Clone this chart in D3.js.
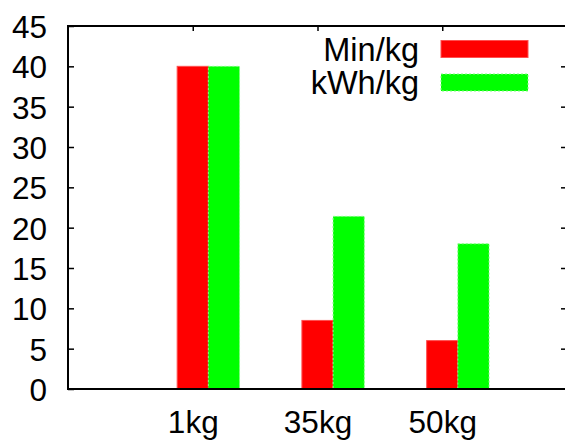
<!DOCTYPE html>
<html>
<head>
<meta charset="utf-8">
<script src="https://cdn.jsdelivr.net/npm/d3@7"></script>
<style>
  body { margin: 0; background: #fff; }
  svg { display: block; }
  text { font-family: "Liberation Sans", Arial, Helvetica, sans-serif; font-size: 31.5px; fill: #000; }
  .legend text { font-size: 32.5px; }
</style>
</head>
<body>
<svg id="chart" width="565" height="441"></svg>
<script>
const categories = ['1kg', '35kg', '50kg'];
const minPerKg = [40, 8.5, 6];
const kwhPerKg = [40, 21.4, 18];
const seriesNames = ['Min/kg', 'kWh/kg'];
const yTicks = [0, 5, 10, 15, 20, 25, 30, 35, 40, 45];

const colors = ['#ff0000', '#00ff00'];
const outlines = ['#ff5050', '#7fff7f'];

const svg = d3.select('#chart');

const plotLeft = 68, plotRight = 567, plotTop = 26, plotBottom = 389;

// categories sit on 1, 2, 3; the x range runs 0..4
const x = d3.scaleLinear().domain([0, categories.length + 1]).range([plotLeft, plotRight]);
const y = d3.scaleLinear().domain([0, 45]).range([plotBottom, plotTop]);

const series = [minPerKg, kwhPerKg];
const barW = 0.25;
const offsets = [-0.125, 0.125];

series.forEach((vals, s) => {
  svg.append('g')
    .selectAll('rect')
    .data(vals)
    .enter()
    .append('rect')
    .attr('x', (d, i) => x(i + 1 + offsets[s]))
    .attr('width', x(barW) - x(0))
    .attr('y', d => y(d))
    .attr('height', d => y(0) - y(d))
    .style('fill', colors[s])
    .style('stroke', outlines[s])
    .style('stroke-width', 1)
    .style('stroke-dasharray', s === 1 ? '2,2' : null);
});

// y axis, ticks inside
const yAxis = d3.axisLeft(y).tickValues(yTicks).tickSizeInner(-6).tickSizeOuter(0).tickPadding(21);
const gy = svg.append('g').attr('transform', `translate(${plotLeft},0)`).call(yAxis);
gy.select('.domain').remove();
gy.selectAll('.tick line').attr('stroke', '#000').attr('stroke-width', 1.5);
gy.selectAll('.tick text').attr('dy', '0.36em');

// mirrored ticks on the right border
const gr = svg.append('g').attr('transform', `translate(${plotRight},0)`)
  .call(d3.axisRight(y).tickValues(yTicks.slice(1, -1)).tickSizeInner(-6).tickSizeOuter(0).tickFormat(''));
gr.select('.domain').remove();
gr.selectAll('.tick line').attr('stroke', '#000').attr('stroke-width', 1.5);

// x axis labels below
const gx = svg.append('g').attr('transform', `translate(0,${plotBottom})`)
  .call(d3.axisBottom(x).tickValues([1, 2, 3]).tickFormat(d => categories[d - 1]).tickSize(0).tickPadding(22));
gx.select('.domain').remove();
gx.selectAll('.tick text').attr('dy', '0.71em');
gx.attr('font-size', null).attr('font-family', null);
gy.attr('font-size', null).attr('font-family', null);

// mirrored ticks on top
const gt = svg.append('g').attr('transform', `translate(0,${plotTop})`)
  .call(d3.axisTop(x).tickValues([1, 2, 3]).tickSizeInner(-5).tickSizeOuter(0).tickFormat(''));
gt.select('.domain').remove();
gt.selectAll('.tick line').attr('stroke', '#000').attr('stroke-width', 1.5);

// frame
svg.append('path')
  .attr('d', `M${plotRight},${plotTop}H${plotLeft}V${plotBottom}H${plotRight}`)
  .attr('fill', 'none')
  .attr('stroke', '#000')
  .attr('stroke-width', 2);

// legend
const legend = svg.append('g').attr('class', 'legend');
seriesNames.forEach((name, s) => {
  const cy = 49 + s * 33.5;
  legend.append('text')
    .attr('x', 419)
    .attr('y', cy)
    .attr('dy', '0.36em')
    .attr('text-anchor', 'end')
    .text(name);
  legend.append('rect')
    .attr('x', 441)
    .attr('y', cy - 8.5)
    .attr('width', 87)
    .attr('height', 17)
    .style('fill', colors[s])
    .style('stroke', outlines[s])
    .style('stroke-width', 1)
    .style('stroke-dasharray', s === 1 ? '2,2' : null);
});
</script>
</body>
</html>
